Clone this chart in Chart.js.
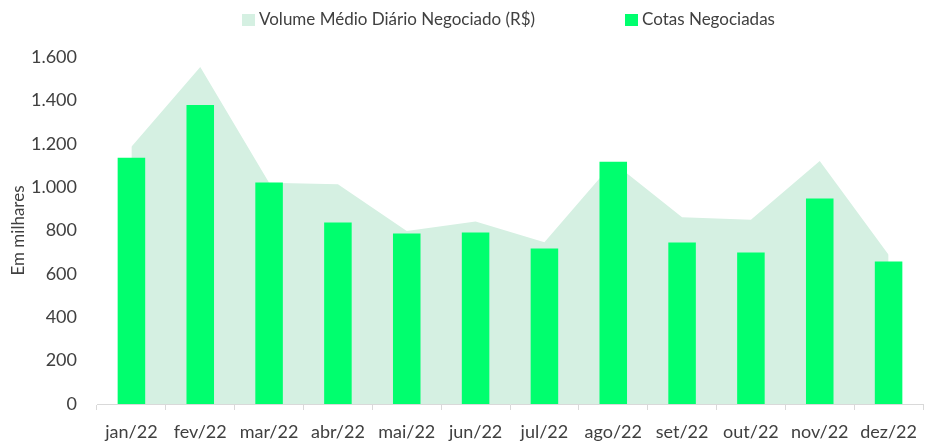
<!DOCTYPE html>
<html>
<head>
<meta charset="utf-8">
<script src="https://cdn.jsdelivr.net/npm/chart.js@4.4.0/dist/chart.umd.min.js"></script>
<style>
  html, body { margin: 0; padding: 0; background: #ffffff; }
  #wrap { position: relative; width: 932px; height: 444px; }
  #c { position: absolute; left: 0; top: 0; }
  .leg { position: absolute; top: 8px; font-family: Lato, "Open Sans", sans-serif; font-size: 17px; color: #404040; white-space: nowrap; line-height: 22px; }
  .leg span.box { display: inline-block; width: 13px; height: 12px; vertical-align: -1px; margin-right: 4px; }
</style>
</head>
<body>
<div id="wrap">
  <canvas id="c" width="932" height="444"></canvas>
  <div class="leg" style="left:242px"><span class="box" style="background:#d5f0e2"></span>Volume Médio Diário Negociado (R$)</div>
  <div class="leg" style="left:625px"><span class="box" style="background:#00ff6e"></span>Cotas Negociadas</div>
</div>
<script>
const categories = ['jan/22','fev/22','mar/22','abr/22','mai/22','jun/22','jul/22','ago/22','set/22','out/22','nov/22','dez/22'];
const cotasNegociadas = [1136, 1379, 1021, 837, 786, 791, 717, 1117, 745, 699, 947, 657];
const volumeMedioDiario = [1186, 1554, 1020, 1013, 798, 841, 746, 1114, 861, 849, 1120, 688];
const yTicks = [0, 200, 400, 600, 800, 1000, 1200, 1400, 1600];

function fmt(v) {
  return String(v).replace(/\B(?=(\d{3})+(?!\d))/g, '.');
}

const FONT = { family: 'Lato, "Open Sans", sans-serif', size: 17 };
const TICKFONT = { family: 'Lato, "Open Sans", sans-serif', size: 18 };

new Chart(document.getElementById('c'), {
  type: 'bar',
  data: {
    labels: categories,
    datasets: [
      {
        type: 'bar',
        label: 'Cotas Negociadas',
        data: cotasNegociadas,
        backgroundColor: '#00ff6e',
        borderWidth: 0,
        barPercentage: 0.4,
        categoryPercentage: 1.0,
        order: 1
      },
      {
        type: 'line',
        label: 'Volume Médio Diário Negociado (R$)',
        data: volumeMedioDiario,
        backgroundColor: '#d5f0e2',
        borderWidth: 0,
        borderColor: 'rgba(0,0,0,0)',
        pointRadius: 0,
        fill: 'origin',
        tension: 0,
        order: 2
      }
    ]
  },
  options: {
    responsive: false,
    animation: false,
    devicePixelRatio: 1,
    layout: { padding: { left: 8, right: 9, top: 57, bottom: 0 } },
    plugins: {
      legend: { display: false },
      tooltip: { enabled: false }
    },
    scales: {
      x: {
        afterFit: (scale) => { scale.height = 40; },
        grid: { display: true, drawOnChartArea: false, drawTicks: true, tickLength: 6, color: '#d9d9d9', offset: true },
        border: { display: true, color: '#d9d9d9', width: 1 },
        ticks: { color: '#404040', font: TICKFONT, padding: 11, maxRotation: 0, autoSkip: false }
      },
      y: {
        min: 0,
        max: 1600,
        afterBuildTicks: (scale) => { scale.ticks = yTicks.map(v => ({ value: v })); },
        afterFit: (scale) => { scale.width = 89; },
        grid: { display: false, drawTicks: false },
        border: { display: false },
        ticks: { color: '#404040', font: TICKFONT, padding: 20, callback: (v) => fmt(v) },
        title: { display: true, text: 'Em milhares', color: '#404040', font: FONT, padding: { top: 0, bottom: 0 } }
      }
    }
  }
});
</script>
</body>
</html>
